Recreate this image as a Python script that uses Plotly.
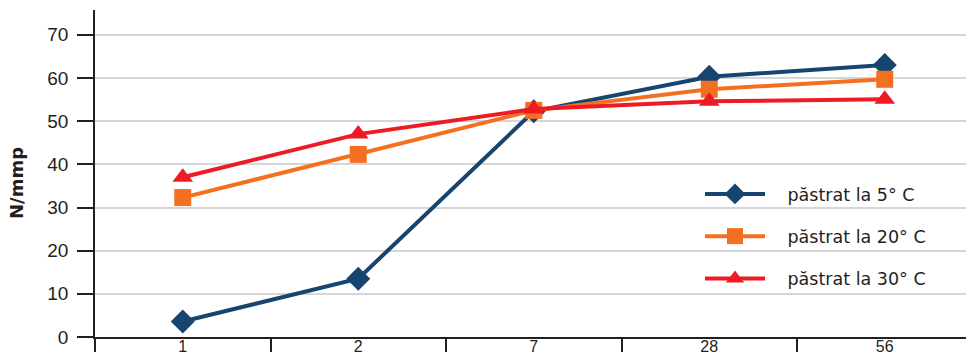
import plotly.graph_objects as go

# Days of storage (categorical axis)
days = ["1", "2", "7", "28", "56"]

# Strength in N/mm² for each storage temperature
kept_5c = [3.6, 13.5, 52.3, 60.3, 63.0]
kept_20c = [32.3, 42.3, 52.5, 57.4, 59.7]
kept_30c = [37.0, 47.0, 52.8, 54.6, 55.1]

series_names = ["păstrat la 5° C", "păstrat la 20° C", "păstrat la 30° C"]
series_values = [kept_5c, kept_20c, kept_30c]
series_colors = ["#17456f", "#f37021", "#ed1c24"]
series_symbols = ["diamond", "square", "triangle-up"]
series_sizes = [18.5, 17, 18]

y_ticks = [0, 10, 20, 30, 40, 50, 60, 70]

INK = "#231f20"
TEXT_FONT = "DejaVu Sans, sans-serif"
TICK_FONT = "Liberation Sans, Arial, sans-serif"

fig = go.Figure()
for name, vals, color, sym, size in zip(series_names, series_values,
                                         series_colors, series_symbols, series_sizes):
    fig.add_trace(go.Scatter(
        x=days, y=vals, name="\u2003" + name, mode="lines+markers",
        line=dict(color=color, width=4),
        marker=dict(symbol=sym, size=size, color=color, line=dict(width=0)),
        legendgroup=name,
    ))

W, H = 966, 363
ML, MR, MT, MB = 95, 0, 10, 26
plot_w = W - ML - MR
plot_h = H - MT - MB
cat_w = 175.5

fig.update_layout(
    width=W, height=H,
    margin=dict(l=ML, r=MR, t=MT, b=MB, pad=0, autoexpand=False),
    paper_bgcolor="white", plot_bgcolor="white",
    font=dict(family=TEXT_FONT, size=17, color=INK),
    showlegend=True,
    legend=dict(
        x=(700 - ML) / plot_w, y=(337 - 176) / plot_h,
        xanchor="left", yanchor="top",
        bgcolor="rgba(0,0,0,0)",
        font=dict(family=TEXT_FONT, size=17.5, color=INK),
        traceorder="grouped", tracegroupgap=16.5,
        itemwidth=60,
    ),
    xaxis=dict(
        type="category",
        range=[-0.5, -0.5 + plot_w / cat_w],
        automargin=False,
        showgrid=False,
        showline=True, linecolor=INK, linewidth=1.5,
        ticks="outside", tickson="boundaries", ticklen=13,
        tickwidth=1.5, tickcolor=INK,
        tickfont=dict(family=TICK_FONT, size=16, color=INK),
        ticklabelstandoff=-6,
        zeroline=False,
    ),
    yaxis=dict(
        range=[0, 75.75],
        tickvals=y_ticks,
        automargin=False,
        showgrid=True, gridcolor="#d6d6d6", gridwidth=1.5,
        showline=True, linecolor=INK, linewidth=1.5,
        ticks="outside", ticklen=16, tickwidth=1.5, tickcolor=INK,
        tickfont=dict(family=TICK_FONT, size=19, color=INK),
        ticklabelstandoff=5,
        zeroline=False,
    ),
    annotations=[
        dict(text="<b>N/mmp</b>", xref="paper", yref="paper",
             x=(16 - ML) / plot_w, y=(337 - 183) / plot_h,
             xanchor="center", yanchor="middle",
             textangle=-90, showarrow=False,
             font=dict(family=TEXT_FONT, size=18, color=INK)),
        dict(text="<b>Zile</b>", xref="x", yref="paper",
             x="7", y=(337 - 307) / plot_h,
             xanchor="center", yanchor="middle",
             showarrow=False,
             font=dict(family=TEXT_FONT, size=16, color=INK)),
    ],
)

fig.write_html("out.html")
